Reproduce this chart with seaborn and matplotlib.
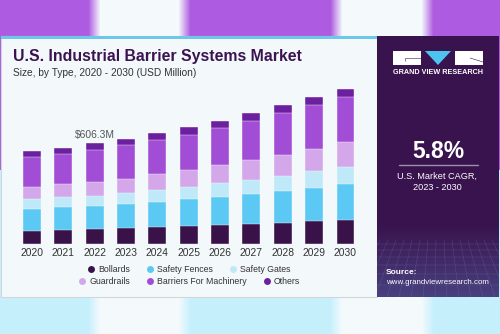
import numpy as np
import pandas as pd
import matplotlib
matplotlib.use("Agg")
import matplotlib.pyplot as plt
import seaborn as sns
from matplotlib.lines import Line2D
from matplotlib.patches import Rectangle, Polygon

sns.set_theme(style="white")
plt.rcParams["font.family"] = ["Liberation Sans", "DejaVu Sans"]

# market size by type, USD million
years = ["2020", "2021", "2022", "2023", "2024", "2025", "2026", "2027", "2028", "2029", "2030"]
bollards = [78, 84, 90.3, 96, 101, 107, 113, 119, 125, 137, 146]
safety_fences = [132, 137, 140.5, 144, 154, 163, 172, 185, 194, 202, 217]
safety_gates = [60, 60, 60.2, 66, 72, 76, 81, 84, 92, 101, 102]
guardrails = [74, 78, 84.3, 86, 93, 101, 108, 119, 125, 132, 149]
barriers_machinery = [177, 182, 190.8, 203, 206, 212, 225, 233, 251, 263, 269]
others = [36, 38, 40.2, 38, 42, 45, 42, 46, 50, 52, 52]

segments = ["Bollards", "Safety Fences", "Safety Gates", "Guardrails",
            "Barriers For Machinery", "Others"]
colors = ["#3a124a", "#5bc9f3", "#bfe9f9", "#d4a7ea", "#a24dd6", "#6c1f9e"]

df = pd.DataFrame({"Year": years, "Bollards": bollards, "Safety Fences": safety_fences,
                   "Safety Gates": safety_gates, "Guardrails": guardrails,
                   "Barriers For Machinery": barriers_machinery, "Others": others})
cum = df[segments].cumsum(axis=1)

W, H = 500, 334
fig = plt.figure(figsize=(W / 100, H / 100), dpi=100)


def fx(x):
    return x / W


def fy(y):
    return 1 - y / H


# page background: purple band on top, light blue band at the bottom
bg = fig.add_axes([0, 0, 1, 1])
bg.set_axis_off()
img = np.zeros((H, W, 3))
xs = np.arange(W)


def glow(x0, x1):
    return np.clip(np.minimum((xs - x0) / 12, (x1 - xs) / 12), 0, 1)


shine = np.maximum(glow(88, 190), glow(330, 433))
top_c = np.array([0.68, 0.36, 0.88])
bot_c = np.array([0.78, 0.94, 0.99])
white = np.array([0.96, 0.98, 0.99])
for r in range(H):
    base = top_c if r < 170 else bot_c
    img[r] = base[None, :] * (1 - shine[:, None]) + white[None, :] * shine[:, None]
bg.imshow(img, extent=[0, W, H, 0], aspect="auto")
bg.set_xlim(0, W)
bg.set_ylim(H, 0)

# card with the chart area
bg.add_patch(Rectangle((1, 36), 376, 261, facecolor="#f3f8fb", edgecolor="#d2d6da", lw=0.8))
bg.add_patch(Rectangle((1, 36), 376, 3, facecolor="#6cc7ea", edgecolor="none"))

# dark side panel with a faint grid fading in at the bottom
pn = fig.add_axes([fx(377), fy(297), 122 / W, 261 / H])
pn.set_axis_off()
pn.set_xlim(377, 499)
pn.set_ylim(297, 36)
dark = np.array([0.227, 0.078, 0.306])
blue = np.array([0.33, 0.40, 0.66])
fade = np.clip((np.arange(261) - 190) / 71, 0, 1)[:, None, None]
panel = dark * (1 - 0.55 * fade) + blue * 0.55 * fade
pn.imshow(np.repeat(panel, 4, axis=1), extent=[377, 499, 297, 36], aspect="auto")
for gx in np.arange(372, 510, 8):
    pn.plot([gx, gx + (gx - 438) * 0.5], [240, 297], color="#8a96d0", lw=0.3, alpha=0.35)
for gy in [244, 250, 257, 265, 274, 285]:
    pn.plot([377, 499], [gy, gy], color="#8a96d0", lw=0.3, alpha=0.35)

# logo
pn.add_patch(Rectangle((393, 51), 28, 14, facecolor="white", edgecolor="none"))
pn.add_patch(Polygon([(425, 51), (451, 51), (438, 65)], facecolor="#4fc3f0", edgecolor="none"))
pn.add_patch(Rectangle((455, 51), 28, 14, facecolor="white", edgecolor="none"))
pn.plot([405, 405, 421], [61, 58, 58], color="#3a144e", lw=0.4)
pn.plot([470, 483], [58, 62], color="#3a144e", lw=0.4)
fig.text(fx(438), fy(73), "GRAND VIEW RESEARCH", color="white", fontsize=5.2,
         fontweight="bold", ha="center", va="center")

fig.text(fx(438), fy(151), "5.8%", color="white", fontsize=16.5, fontweight="bold",
         ha="center", va="center")
pn.plot([399, 478], [165, 165], color="#9c8fa8", lw=1.0)
fig.text(fx(437), fy(176), "U.S. Market CAGR,", color="white", fontsize=6.6,
         ha="center", va="center")
fig.text(fx(437), fy(188), "2023 - 2030", color="white", fontsize=6.6,
         ha="center", va="center")
fig.text(fx(386), fy(272), "Source:", color="white", fontsize=6.0, fontweight="bold",
         ha="left", va="center")
fig.text(fx(386), fy(283), "www.grandviewresearch.com", color="white", fontsize=5.7,
         ha="left", va="center")

# titles
fig.text(fx(13), fy(57), "U.S. Industrial Barrier Systems Market", color="#3b1350",
         fontsize=11.4, fontweight="bold", ha="left", va="center")
fig.text(fx(13), fy(73), "Size, by Type, 2020 - 2030 (USD Million)", color="#333333",
         fontsize=7.3, ha="left", va="center")

# stacked bars
ax_l, ax_r, ax_top, ax_bot = 10, 368, 80, 244
ax = fig.add_axes([fx(ax_l), fy(ax_bot), (ax_r - ax_l) / W, (ax_bot - ax_top) / H])
ax.set_facecolor("none")
for seg, col in reversed(list(zip(segments, colors))):
    sns.barplot(x=df["Year"], y=cum[seg], color=col, width=0.574, errorbar=None,
                edgecolor="#f3f8fb", linewidth=0.3, ax=ax, saturation=1)
step = 31.35
ax.set_xlim(-(32 - ax_l) / step, 10 + (ax_r - 345.5) / step)
ax.set_ylim(0, (ax_bot - ax_top) * 6.02)
ax.set_xlabel("")
ax.set_ylabel("")
ax.set_yticks([])
ax.tick_params(axis="x", length=0, pad=3, labelsize=7.4, labelcolor="#333333")
sns.despine(ax=ax, left=True, bottom=True)

total_2022 = cum["Others"].iloc[2]
ax.text(2, total_2022 + 22, f"${total_2022:.1f}M", ha="center", va="bottom",
        fontsize=7.4, color="#555555")

# legend in two centred rows
handles = [Line2D([], [], marker="o", linestyle="none", markersize=5.0,
                  markerfacecolor=c, markeredgecolor="none") for c in colors]
for row, yy in [(0, 270), (1, 282)]:
    fig.legend(handles[row * 3:row * 3 + 3], segments[row * 3:row * 3 + 3],
               loc="center", bbox_to_anchor=(fx(188), fy(yy)), ncol=3, frameon=False,
               fontsize=6.3, handletextpad=0.1, columnspacing=1.6, handlelength=1.4,
               labelcolor="#333333")

fig.savefig("out.png", dpi=100)
